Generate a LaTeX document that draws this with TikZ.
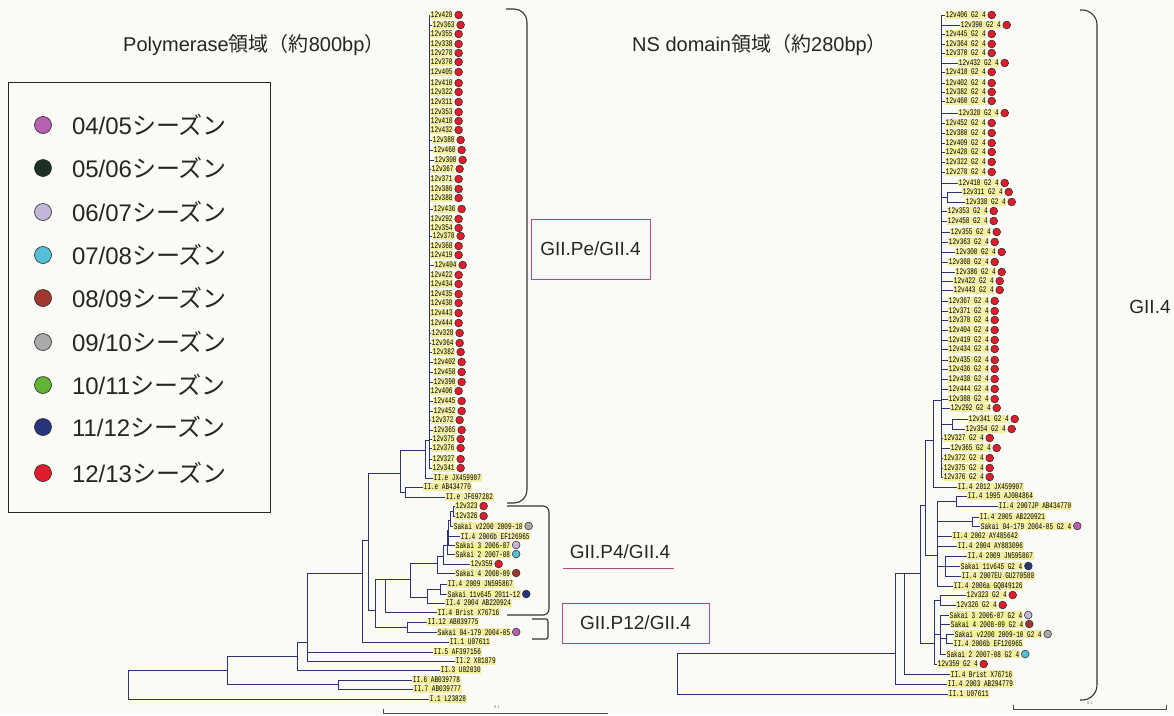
\documentclass[tikz,border=0pt]{standalone}
\usepackage{fontspec}
\setmainfont{Liberation Sans}
\newfontfamily\jpfont{Noto Sans CJK JP}
\newfontfamily\leaffont[FakeStretch=0.7]{Liberation Mono}
\usetikzlibrary{positioning}
\definecolor{paper}{RGB}{250,250,246}
\definecolor{treeBlue}{RGB}{45,48,125}
\definecolor{leafFill}{RGB}{243,238,160}
\definecolor{cladeMagenta}{RGB}{178,74,142}
\definecolor{s0405}{RGB}{184,96,178}
\definecolor{s0506}{RGB}{30,48,38}
\definecolor{s0607}{RGB}{196,182,218}
\definecolor{s0708}{RGB}{84,192,214}
\definecolor{s0809}{RGB}{160,56,46}
\definecolor{s0910}{RGB}{170,170,170}
\definecolor{s1011}{RGB}{98,178,52}
\definecolor{s1112}{RGB}{40,52,124}
\definecolor{s1213}{RGB}{222,30,44}
\colorlet{ink}{black!85}
\tikzset{
  branch/.style={draw=treeBlue, line width=0.9pt},
  leaf/.style={
    fill=leafFill,
    anchor=west,
    inner xsep=0.7pt,
    inner ysep=0pt,
    minimum height=8.6pt,
    font=\leaffont\fontsize{8.6}{8.6}\selectfont,
    text=black
  },
  seasondot/.style={circle, draw=black!85, line width=0.5pt, fill=#1, minimum size=7.8pt, inner sep=0pt},
  keydot/.style={circle, draw=black!85, line width=0.6pt, fill=#1, minimum size=17pt, inner sep=0pt},
  keytext/.style={anchor=west, inner sep=0pt, text=ink, font=\fontsize{24}{27}\selectfont},
  keyframe/.style={draw=black!85, line width=1pt},
  heading/.style={anchor=west, inner sep=0pt, text=ink, font=\fontsize{20}{24}\selectfont},
  clade/.style={inner sep=0pt, text=ink, font=\fontsize{19}{23}\selectfont},
  cladebox/.style={clade, draw=cladeMagenta, line width=1pt},
  bracket/.style={draw=black!80, line width=1.1pt},
  scalebar/.style={draw=black!70, line width=0.6pt},
  tiny label/.style={inner sep=0pt, text=black!70, font=\leaffont\fontsize{4}{4}\selectfont}
}
\newcommand{\Season}[1]{#1{\jpfont シーズン}}

\begin{document}
\begin{tikzpicture}[x=1pt,y=-1pt]
  \fill[paper] (0,0) rectangle (1174,715);
  \useasboundingbox (0,0) rectangle (1174,715);

  \node[heading] (polyTitle) at (123,45) {Polymerase{\jpfont 領域（約}800bp{\jpfont ）}};
  \node[heading] (nsTitle) at (632,45) {NS domain{\jpfont 領域（約}280bp{\jpfont ）}};

  % legend
  \draw[keyframe] (8,82) rectangle (270,512);
  \foreach \y/\c/\a/\b [count=\k] in {125/s0405/04/05, 168/s0506/05/06, 212/s0607/06/07,
      255/s0708/07/08, 298/s0809/08/09, 342/s0910/09/10, 385/s1011/10/11, 427/s1112/11/12, 473/s1213/12/13}{
    \node[keydot=\c] (key\k) at (43,\y) {};
    \node[keytext, right=20pt of key\k] (keylabel\k) {\Season{\a/\b}};
  }

  % polymerase tree
  \coordinate (lRoot) at (128,684);
  \coordinate (lA1) at (227,670);
  \coordinate (lA2) at (297,656);
  \coordinate (lA3) at (338,684);
  \coordinate (lA4) at (307,642);
  \coordinate (lA6) at (362,573);
  \coordinate (lB) at (368,540);
  \coordinate (lC) at (400,473);
  \coordinate (lC1) at (425,450);
  \coordinate (lC2) at (405,492);
  \coordinate (lCl) at (429,440);
  \coordinate (lD) at (375,610);
  \coordinate (lE) at (385,579);
  \coordinate (lF) at (407,627);
  \coordinate (lG) at (410,579);
  \coordinate (ln1) at (453,511);
  \coordinate (ln2) at (450,520);
  \coordinate (ln3) at (448,530);
  \coordinate (ln4) at (447,545);
  \coordinate (ln5) at (443,556);
  \coordinate (ln6) at (437,563);
  \coordinate (ln7) at (440,589);
  \coordinate (ln8) at (427,597);

  \foreach \x/\y/\lab [count=\i] in {430/15/12v428, 432/25/12v363, 430/34/12v355, 430/44/12v338,
      430/53/12v278, 430/62/12v370, 430/72/12v405, 430/83/12v410, 430/92/12v322, 430/102/12v311,
      430/112/12v353, 430/121/12v418, 430/130/12v432, 432/140/12v380, 433/150/12v460, 434/160/12v300,
      431/169/12v367, 430/179/12v371, 430/189/12v386, 430/198/12v388, 433/209/12v436, 430/219/12v292,
      430/228/12v354, 432/236/12v378, 430/246/12v368, 430/255/12v419, 434/265/12v404, 430/275/12v422,
      430/284/12v434, 430/294/12v435, 430/303/12v438, 430/313/12v443, 430/323/12v444, 431/333/12v328,
      431/343/12v364, 432/352/12v382, 433/362/12v402, 433/372/12v458, 433/382/12v390, 430/391/12v406,
      433/401/12v445, 433/411/12v452, 431/420/12v372, 433/430/12v365, 432/439/12v375, 432/448/12v376,
      432/459/12V327, 432/468/12v341}{
    \draw[branch] (lCl) |- (\x,\y);
    \node[leaf] (pl\i) at (\x,\y) {\lab};
    \node[seasondot=s1213, right=1pt of pl\i] (pd\i) {};
  }

  \node[leaf] (lJX) at (433,478) {II.e JX459907};
  \node[leaf] (lAB43) at (423,487) {II.e AB434770};
  \node[leaf] (lJF) at (445,497) {II.e JF697282};
  \node[leaf] (l323) at (455,506) {12v323};
  \node[seasondot=s1213, right=1pt of l323] (l323d) {};
  \node[leaf] (l326) at (455,516) {12v326};
  \node[seasondot=s1213, right=1pt of l326] (l326d) {};
  \node[leaf] (lV2200) at (453,526) {Sakai v2200 2009-10};
  \node[seasondot=s0910, right=1pt of lV2200] (lV2200d) {};
  \node[leaf] (l2006b) at (460,536) {II.4 2006b EF126965};
  \node[leaf] (lSak3) at (455,545) {Sakai 3 2006-07};
  \node[seasondot=s0607, right=1pt of lSak3] (lSak3d) {};
  \node[leaf] (lSak2) at (455,554) {Sakai 2 2007-08};
  \node[seasondot=s0708, right=1pt of lSak2] (lSak2d) {};
  \node[leaf] (l359) at (470,564) {12v359};
  \node[seasondot=s1213, right=1pt of l359] (l359d) {};
  \node[leaf] (lSak4) at (455,573) {Sakai 4 2008-09};
  \node[seasondot=s0809, right=1pt of lSak4] (lSak4d) {};
  \node[leaf] (l2009) at (447,584) {II.4 2009 JN595867};
  \node[leaf] (l11v645) at (447,594) {Sakai 11v645 2011-12};
  \node[seasondot=s1112, right=1pt of l11v645] (l11v645d) {};
  \node[leaf] (l2004) at (445,603) {II.4 2004 AB220924};
  \node[leaf] (lBrist) at (437,612) {II.4 Brist X76716};
  \node[leaf] (l12) at (427,622) {II.12 AB039775};
  \node[leaf] (lSak04) at (437,632) {Sakai 04-179 2004-05};
  \node[seasondot=s0405, right=1pt of lSak04] (lSak04d) {};
  \node[leaf] (lU076) at (449,642) {II.1 U07611};
  \node[leaf] (lAF) at (433,652) {II.5 AF397156};
  \node[leaf] (lX81) at (455,661) {II.2 X81879};
  \node[leaf] (lU020) at (440,670) {II.3 U02030};
  \node[leaf] (lAB778) at (412,680) {II.6 AB039778};
  \node[leaf] (lAB777) at (413,689) {II.7 AB039777};
  \node[leaf] (lL23) at (429,699) {I.1 L23828};

  \draw[branch] (lRoot) |- (lA1) (lRoot) |- (lL23.west)
    (lA1) |- (lA2) (lA1) |- (lA3)
    (lA3) |- (lAB778.west) (lA3) |- (lAB777.west)
    (lA2) |- (lA4) (lA2) |- (lU020.west)
    (lA4) |- (lA6) (lA4) |- (lAF.west) (lA4) |- (lX81.west)
    (lA6) |- (lB) (lA6) |- (lU076.west)
    (lB) |- (lC) (lB) |- (lD)
    (lC) |- (lC1) (lC) |- (lC2)
    (lC1) |- (lCl) (lC1) |- (lJX.west)
    (lC2) |- (lAB43.west) (lC2) |- (lJF.west)
    (lD) |- (lE) (lD) |- (lF)
    (lE) |- (lG) (lE) |- (lBrist.west)
    (lF) |- (l12.west) (lF) |- (lSak04.west)
    (lG) |- (ln6) (lG) |- (ln8)
    (ln8) |- (ln7) (ln8) |- (l2004.west)
    (ln7) |- (l2009.west) (ln7) |- (l11v645.west)
    (ln6) |- (ln5) (ln6) |- (lSak4.west)
    (ln5) |- (ln4) (ln5) |- (l359.west)
    (ln4) |- (ln3) (ln4) |- (lSak2.west)
    (ln3) |- (ln2) (ln3) |- (l2006b.west) (ln3) |- (lSak3.west)
    (ln2) |- (ln1) (ln2) |- (lV2200.west)
    (ln1) |- (l323.west) (ln1) |- (l326.west);

  % NS domain tree
  \coordinate (rRoot) at (677,673);
  \coordinate (rR1) at (895,653);
  \coordinate (rR2) at (904,573);
  \coordinate (rR3) at (920,573);
  \coordinate (rR4) at (925,505);
  \coordinate (rRJ) at (933,440);
  \coordinate (rCl) at (941,400);
  \coordinate (rS1) at (947,197);
  \coordinate (rS2) at (952,424);
  \coordinate (rR7) at (937,555);
  \coordinate (rR7a) at (956,501);
  \coordinate (rR7b) at (972,521);
  \coordinate (rR7c) at (945,566);
  \coordinate (rR5) at (934,643);
  \coordinate (rR5a) at (940,600);
  \coordinate (rR5b) at (940,634);
  \coordinate (rR5c) at (946,638);

  \foreach \x/\y/\lab/\p [count=\i] in {945/15/12v406/rCl, 960/25/12v390/rCl, 945/34/12v445/rCl,
      945/44/12v364/rCl, 945/53/12v370/rCl, 958/63/12v432/rCl, 945/72/12v418/rCl, 945/83/12v402/rCl,
      945/92/12v382/rCl, 945/101/12v460/rCl, 958/113/12v328/rCl, 945/123/12v452/rCl, 945/133/12v380/rCl,
      945/143/12v409/rCl, 945/152/12v428/rCl, 945/162/12v322/rCl, 945/172/12v278/rCl, 958/183/12v410/rCl,
      962/192/12v311/rS1, 965/202/12v338/rS1, 947/211/12v353/rCl, 947/221/12v458/rCl, 950/232/12v355/rCl,
      948/242/12v363/rCl, 955/252/12v300/rCl, 948/262/12v368/rCl, 955/272/12v386/rCl, 953/281/12v422/rCl,
      953/290/12v443/rCl, 948/301/12v367/rCl, 948/311/12v371/rCl, 948/320/12v378/rCl, 948/330/12v404/rCl,
      948/340/12v419/rCl, 948/349/12v434/rCl, 948/360/12v435/rCl, 948/369/12v436/rCl, 948/379/12v438/rCl,
      948/389/12v444/rCl, 948/399/12v388/rCl, 950/408/12v292/rCl, 968/419/12v341/rS2, 965/429/12v354/rS2,
      943/438/12V327/rCl, 950/448/12v365/rCl, 943/458/12v372/rCl, 943/468/12v375/rCl, 943/477/12v376/rCl}{
    \draw[branch] (\p) |- (\x,\y);
    \node[leaf] (rc\i) at (\x,\y) {\lab\ G2 4};
    \node[seasondot=s1213, right=1pt of rc\i] (rd\i) {};
  }

  \node[leaf] (rJX) at (957,487) {II.4 2012 JX459907};
  \node[leaf] (r1995) at (967,496) {II.4 1995 AJ004864};
  \node[leaf] (r2007JP) at (998,506) {II.4 2007JP AB434770};
  \node[leaf] (r2005) at (979,517) {II.4 2005 AB220921};
  \node[leaf] (rSak04) at (980,526) {Sakai 04-179 2004-05 G2 4};
  \node[seasondot=s0405, right=1pt of rSak04] (rSak04d) {};
  \node[leaf] (r2002) at (952,536) {II.4 2002 AY485642};
  \node[leaf] (r2004AY) at (957,546) {II.4 2004 AY883096};
  \node[leaf] (r2009) at (967,556) {II.4 2009 JN595867};
  \node[leaf] (r11v645) at (960,566) {Sakai 11v645 G2 4};
  \node[seasondot=s1112, right=1pt of r11v645] (r11v645d) {};
  \node[leaf] (r2007EU) at (961,576) {II.4 2007EU GU270580};
  \node[leaf] (r2006a) at (953,586) {II.4 2006a GQ849126};
  \node[leaf] (r323) at (966,595) {12v323 G2 4};
  \node[seasondot=s1213, right=1pt of r323] (r323d) {};
  \node[leaf] (r326) at (956,605) {12v326 G2 4};
  \node[seasondot=s1213, right=1pt of r326] (r326d) {};
  \node[leaf] (rSak3) at (949,615) {Sakai 3 2006-07 G2 4};
  \node[seasondot=s0607, right=1pt of rSak3] (rSak3d) {};
  \node[leaf] (rSak4) at (950,624) {Sakai 4 2008-09 G2 4};
  \node[seasondot=s0809, right=1pt of rSak4] (rSak4d) {};
  \node[leaf] (rV2200) at (954,634) {Sakai v2200 2009-10 G2 4};
  \node[seasondot=s0910, right=1pt of rV2200] (rV2200d) {};
  \node[leaf] (r2006b) at (953,643) {II.4 2006b EF126965};
  \node[leaf] (rSak2) at (946,654) {Sakai 2 2007-08 G2 4};
  \node[seasondot=s0708, right=1pt of rSak2] (rSak2d) {};
  \node[leaf] (r359) at (937,664) {12v359 G2 4};
  \node[seasondot=s1213, right=1pt of r359] (r359d) {};
  \node[leaf] (rBrist) at (950,674) {II.4 Brist X76716};
  \node[leaf] (rAB294) at (947,684) {II.4 2003 AB294779};
  \node[leaf] (rU076) at (948,694) {II.1 U07611};

  \draw[branch] (rRoot) |- (rR1) (rRoot) |- (rU076.west)
    (rR1) |- (rR2) (rR1) |- (rAB294.west)
    (rR2) |- (rR3) (rR2) |- (rBrist.west)
    (rR3) |- (rR4) (rR3) |- (rR5)
    (rR4) |- (rRJ) (rR4) |- (rR7)
    (rRJ) |- (rCl) (rRJ) |- (rJX.west)
    (rCl) |- (rS1) (rCl) |- (rS2)
    (rR7) |- (rR7a) (rR7) |- (rR7b) (rR7) |- (r2002.west) (rR7) |- (r2004AY.west)
    (rR7) |- (rR7c) (rR7) |- (r2006a.west)
    (rR7a) |- (r1995.west) (rR7a) |- (r2007JP.west)
    (rR7b) |- (r2005.west) (rR7b) |- (rSak04.west)
    (rR7c) |- (r2009.west) (rR7c) |- (r11v645.west) (rR7c) |- (r2007EU.west)
    (rR5) |- (rR5a) (rR5) |- (rR5b) (rR5) |- (r359.west)
    (rR5a) |- (r323.west) (rR5a) |- (r326.west)
    (rR5b) |- (rSak3.west) (rR5b) |- (rSak4.west) (rR5b) |- (rR5c) (rR5b) |- (rSak2.west)
    (rR5c) |- (rV2200.west) (rR5c) |- (r2006b.west);

  % clade brackets and labels
  \draw[bracket, rounded corners=13pt] (506,9) -| (527,256) |- (507,503);
  \draw[bracket, rounded corners=6pt] (507,506) -| (549,560) |- (507,615);
  \draw[bracket, rounded corners=2pt] (532,619) -| (548,629) |- (532,639);
  \draw[bracket, rounded corners=15pt] (1080,10) -| (1097,350) |- (1080,700);

  \node[cladebox, minimum width=119pt, minimum height=60pt] (peBox) at (590.5,249) {GII.Pe/GII.4};
  \node[clade] (p4Label) at (620,552) {GII.P4/GII.4};
  \draw[draw=cladeMagenta, line width=1pt] ([xshift=-7pt,yshift=-9pt]p4Label.south west) -- ([xshift=4pt,yshift=-9pt]p4Label.south east);
  \node[cladebox, minimum width=147pt, minimum height=40pt] (p12Box) at (635.5,623) {GII.P12/GII.4};
  \node[clade] (gii4Label) at (1150,307) {GII.4};

  % scale bars
  \draw[scalebar] (383,709) -- (383,713) -- (608,713);
  \node[tiny label] (polyScale) at (497,707) {0.1};
  \draw[scalebar] (1013,705) -- (1013,709) -- (1166,709) -- (1166,705);
  \node[tiny label] (nsScale) at (1090,703) {0.1};
\end{tikzpicture}
\end{document}
